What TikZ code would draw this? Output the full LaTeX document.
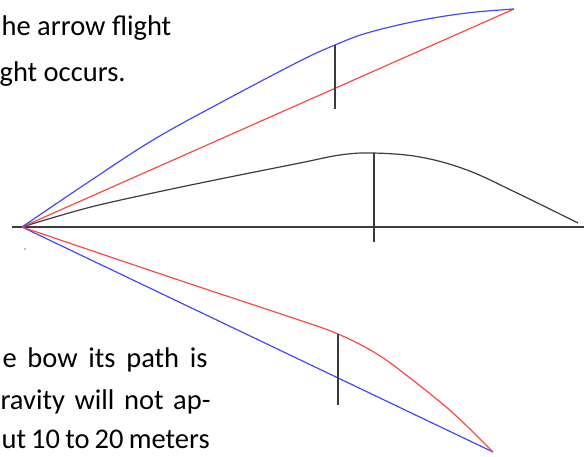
\documentclass[tikz,border=0pt]{standalone}
\usepackage{fontspec}
\setmainfont{Carlito}

\definecolor{flightblue}{RGB}{70,70,255}
\definecolor{flightred}{RGB}{255,70,70}
\definecolor{flightgray}{RGB}{60,60,60}
\newcommand{\jline}[2]{\makebox[#1][s]{#2}}

\begin{document}
\begin{tikzpicture}[x=1pt, y=-1pt, line width=1.2pt,
    txt/.style={anchor=base west, inner sep=0pt, font=\fontsize{28.5}{32}\selectfont},
    tick/.style={flightgray, line width=1.8pt}]
  \useasboundingbox (0,0) rectangle (584,457);
  \coordinate (O) at (22,227);
  \coordinate (axisL) at (12,227);
  \coordinate (axisR) at (584,227);
  \coordinate (hiEnd) at (514,9);
  \coordinate (loEnd) at (493,452);
  % axis and the flat trajectory
  \draw[flightgray] (axisL) -- (axisR);
  \draw[flightgray] plot[smooth, tension=0.6] coordinates {(O) (87,208) (153,193) (220,179)
    (300,163) (340,155) (373,153) (420,157) (467,170) (517,193) (578,223)};
  % upward shot
  \draw[flightred] (O) -- (hiEnd);
  \draw[flightblue] plot[smooth, tension=0.6] coordinates {(O) (87,183) (153,140) (220,103)
    (300,61) (335,45) (367,33) (417,21) (467,13) (hiEnd)};
  % downward shot
  \draw[flightblue] (O) -- (loEnd);
  \draw[flightred] plot[smooth, tension=0.6] coordinates {(O) (180,280.5) (290,317) (338,334)
    (377,354) (410,378) (453,413) (loEnd)};
  \fill[flightred] (25,249) circle (0.9pt);
  % deviation markers
  \coordinate (hiA) at (335,45);  \coordinate (hiB) at (335,109);
  \coordinate (midA) at (374,153); \coordinate (midB) at (374,242);
  \coordinate (loA) at (338,334); \coordinate (loB) at (338,405);
  \draw[tick] (hiA) -- (hiB);
  \draw[tick] (midA) -- (midB);
  \draw[tick] (loA) -- (loB);
  % text
  \node[txt] (t1) at (1,36) {he arrow flight};
  \node[txt] (t2) at (-1,82) {ght occurs.};
  \node[txt] (b1) at (2,367) {\jline{205pt}{e bow its path is}};
  \node[txt] (b2) at (0,409) {\jline{210pt}{ravity will not ap-}};
  \node[txt] (b3) at (1,448) {\jline{208pt}{ut 10 to 20 meters}};
\end{tikzpicture}
\end{document}
